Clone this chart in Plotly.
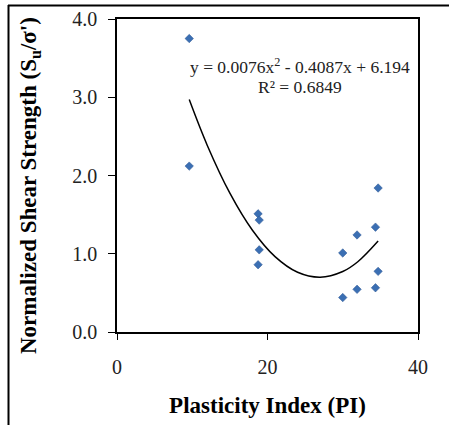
import plotly.graph_objects as go

# Data
pi_values = [9.6, 9.6, 18.75, 18.9, 18.9, 18.75, 30.0, 31.9, 34.35, 34.7, 30.0, 31.9, 34.35, 34.7]
su_values = [3.75, 2.12, 1.51, 1.43, 1.05, 0.86, 1.01, 1.24, 1.34, 1.84, 0.44, 0.545, 0.565, 0.775]

# Trendline points (as drawn)
trend_x = [9.6, 12, 15, 18, 21, 24, 27, 30, 32, 34.7]
trend_y = [2.97, 2.384, 1.774, 1.300, 0.963, 0.763, 0.700, 0.773, 0.898, 1.163]

x_ticks = [0, 20, 40]
y_ticks = [0.0, 1.0, 2.0, 3.0, 4.0]

font_family = "Liberation Serif, Times New Roman, serif"

fig = go.Figure()
fig.add_trace(go.Scatter(x=trend_x, y=trend_y, mode="lines", line=dict(color="black", width=1.5, shape="spline"),
                         showlegend=False, hoverinfo="skip"))
fig.add_trace(go.Scatter(x=pi_values, y=su_values, mode="markers",
                         marker=dict(symbol="diamond", size=6.5, color="#3B6FB3",
                                     line=dict(color="#2A5590", width=0.5)),
                         showlegend=False))

W, H = 449, 425
L, R, T, B = 117, 418, 19, 332
pw, ph = R - L, B - T

def px(x):
    return (x - L) / pw

def py(y):
    return (B - y) / ph

fig.update_layout(
    width=W, height=H,
    margin=dict(l=L, r=W - R, t=T, b=H - B, autoexpand=False),
    plot_bgcolor="white", paper_bgcolor="white",
    font=dict(family=font_family, color="black"),
    xaxis=dict(range=[0, 40], tickvals=x_ticks, ticktext=[str(v) for v in x_ticks],
               showgrid=False, zeroline=False, showline=True, linecolor="black", linewidth=1.5,
               mirror=True, ticks="outside", ticklen=6, tickcolor="black", automargin=False,
               tickfont=dict(size=20, family=font_family, color="#222222"), ticklabelstandoff=10,
               title=dict(text="<b>Plasticity Index (PI)</b>", font=dict(size=23, family=font_family), standoff=20)),
    yaxis=dict(range=[0, 4], tickvals=y_ticks, ticktext=[f"{v:.1f}" for v in y_ticks],
               showgrid=False, zeroline=False, showline=True, linecolor="black", linewidth=1.5,
               mirror=True, ticks="outside", ticklen=7, tickcolor="black", automargin=False,
               tickfont=dict(size=20, family=font_family, color="#222222"), ticklabelstandoff=7),
    annotations=[
        dict(x=px(30), y=py(186), xref="paper", yref="paper", textangle=-90,
             text="<b>Normalized Shear Strength (S<sub>u</sub>/σ')</b>",
             showarrow=False, font=dict(size=23, family=font_family, color="black"),
             xanchor="center", yanchor="middle"),
        dict(x=px(300), y=py(66), xref="paper", yref="paper", text="y = 0.0076x<sup>2</sup> - 0.4087x + 6.194",
             showarrow=False, font=dict(size=17.5, family=font_family, color="#222222"), xanchor="center", yanchor="middle"),
        dict(x=px(300), y=py(87), xref="paper", yref="paper", text="R² = 0.6849",
             showarrow=False, font=dict(size=17.5, family=font_family, color="#222222"), xanchor="center", yanchor="middle"),
    ],
    shapes=[
        dict(type="line", xref="paper", yref="paper", x0=px(8), x1=px(449), y0=py(5.5), y1=py(5.5),
             line=dict(color="black", width=2)),
        dict(type="line", xref="paper", yref="paper", x0=px(8.5), x1=px(8.5), y0=py(5), y1=py(425),
             line=dict(color="black", width=2)),
    ],
)

fig.write_html("out.html", config={"displayModeBar": False},
               post_script="document.body.style.margin='0';")
